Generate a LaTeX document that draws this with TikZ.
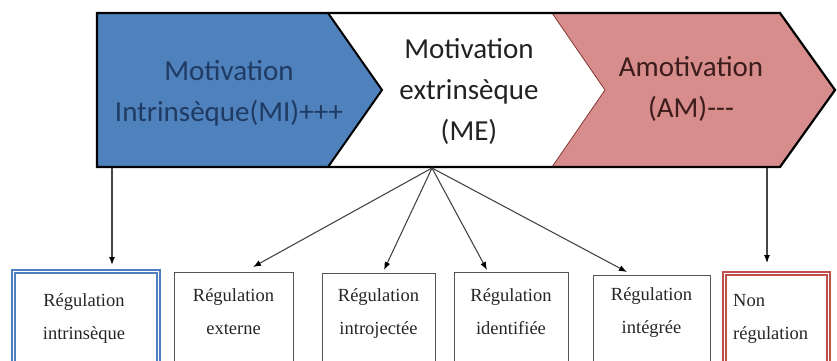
\documentclass[tikz,border=0pt]{standalone}
\usepackage{fontspec}
\setmainfont{Liberation Serif}
\newfontfamily\bandfont{Carlito}
\usetikzlibrary{arrows.meta}
\definecolor{miFill}{HTML}{4F81BD}
\definecolor{amFill}{HTML}{D68D8C}
\definecolor{miText}{HTML}{1F3B63}
\definecolor{amText}{HTML}{3D1C1C}
\definecolor{meText}{HTML}{222222}
\definecolor{miEdge}{HTML}{4F7FBF}
\definecolor{amEdge}{HTML}{C0504D}
\definecolor{boxEdge}{HTML}{555555}
\definecolor{boxText}{HTML}{262626}
\begin{document}
\begin{tikzpicture}[x=1pt,y=1pt,
  bandtext/.style={font=\bandfont\fontsize{29}{41}\selectfont, align=center, inner sep=0pt},
  regbox/.style={draw=boxEdge, line width=1.4pt, fill=white},
  mibox/.style={draw=miEdge, line width=2pt, double=white, double distance=1pt, fill=white},
  ambox/.style={draw=amEdge, line width=2pt, double=white, double distance=1pt, fill=white},
  regtext/.style={font=\fontsize{18.5}{33}\selectfont, text=boxText, align=center, inner sep=0pt},
  link/.style={draw=gray!55!black, line width=1.1pt, -{Latex[black,length=8pt,width=6pt]}}]
\useasboundingbox (0,0) rectangle (837,360);
\clip (0,0) rectangle (837,360);

% chevron band
\fill[miFill] (97,347) -- (328,347) -- (382,270) -- (328,193) -- (97,193) -- cycle;
\fill[white] (328,347) -- (552,347) -- (605,270) -- (552,193) -- (328,193) -- (382,270) -- cycle;
\fill[amFill] (552,347) -- (780,347) -- (835,270) -- (780,193) -- (552,193) -- (605,270) -- cycle;
\draw[amEdge!70!black, line width=0.8pt] (552,347) -- (605,270) -- (552,193);
\draw[black, line width=2pt] (328,347) -- (382,270) -- (328,193);
\draw[black, line width=2.2pt, line join=miter] (97,347) -- (780,347) -- (835,270) -- (780,193) -- (97,193) -- cycle;

\node[bandtext, text=miText] (mi) at (229,267) {Motivation\\Intrinsèque(MI)+++};
\node[bandtext, text=meText] (me) at (469,269) {Motivation\\extrinsèque\\(ME)};
\node[bandtext, text=amText] (am) at (691,271) {Amotivation\\(AM)---};

% connector origins on the band's lower edge
\coordinate (miout) at (112,192);
\coordinate (meout) at (432,192);
\coordinate (amout) at (767,192);

% regulation boxes
\node[mibox, anchor=north west, minimum width=145pt, minimum height=100pt] (b1) at (12,90) {};
\node[regbox, anchor=north west, minimum width=119pt, minimum height=100pt] (b2) at (174,88) {};
\node[regbox, anchor=north west, minimum width=113pt, minimum height=100pt] (b3) at (322,87) {};
\node[regbox, anchor=north west, minimum width=114pt, minimum height=100pt] (b4) at (454,88) {};
\node[regbox, anchor=north west, minimum width=117pt, minimum height=100pt] (b5) at (593,85) {};
\node[ambox, anchor=north west, minimum width=104pt, minimum height=100pt] (b6) at (723,88) {};

\node[regtext] (t1) at (84,41.5) {Régulation\\intrinsèque};
\node[regtext] (t2) at (233.5,48.5) {Régulation\\externe};
\node[regtext] (t3) at (378.5,46) {Régulation\\introjectée};
\node[regtext] (t4) at (511,48.5) {Régulation\\identifiée};
\node[regtext] (t5) at (651.5,47) {Régulation\\intégrée};
\node[regtext, align=left, anchor=west] (t6) at (733,41.5) {Non\\régulation};

% arrow tips above the boxes
\coordinate (e1) at (112,95);
\coordinate (e2) at (253,93);
\coordinate (e3) at (384,90);
\coordinate (e4) at (487,90);
\coordinate (e5) at (627,88);
\coordinate (e6) at (767,97);

\draw[link] (miout) -- (e1);
\draw[link] (meout) -- (e2);
\draw[link] (meout) -- (e3);
\draw[link] (meout) -- (e4);
\draw[link] (meout) -- (e5);
\draw[link] (amout) -- (e6);
\end{tikzpicture}
\end{document}
